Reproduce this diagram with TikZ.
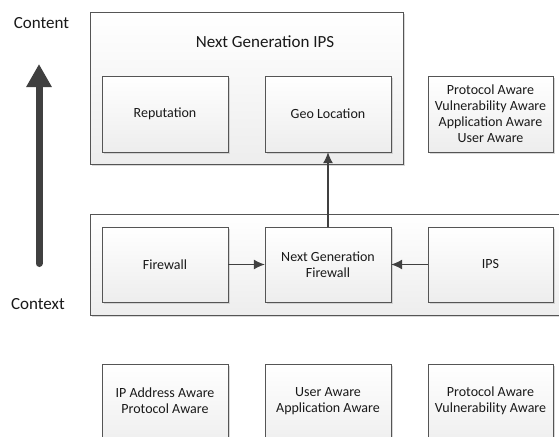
\documentclass[tikz,border=0pt]{standalone}
\usepackage{fontspec}
\setmainfont{Carlito}
\usetikzlibrary{arrows.meta,shadows}
\definecolor{edge}{HTML}{555555}
\definecolor{darkarrow}{HTML}{404040}
\tikzset{
  x=1pt, y=-1pt,
  frame/.style={draw=edge, line width=1pt, top color=white, bottom color=black!7,
    drop shadow={shadow xshift=1.5pt, shadow yshift=-1.5pt, fill=black!25, opacity=0.6}},
  card/.style={frame},
  txt/.style={font=\fontsize{14}{16}\selectfont, align=center, text=black!90},
  bigtxt/.style={font=\fontsize{17}{19}\selectfont, text=black!90},
  flow/.style={draw=darkarrow, line width=1.1pt, -{Latex[length=11pt,width=10pt]}},
}
\begin{document}
\begin{tikzpicture}
\clip (0,0) rectangle (559,436);
\fill[white] (0,0) rectangle (559,436);

% upper frame: next generation IPS
\path[frame] (90,13) rectangle (403,164);
\node[bigtxt] (ipstitle) at (265,42) {Next Generation IPS};
\path[card] (102,76) rectangle (228,152);
\node[txt] (rep) at (165,114) {Reputation};
\path[card] (265,76) rectangle (391,152);
\node[txt, minimum width=126pt, minimum height=76pt] (geo) at (328,114) {Geo Location};
\path[card] (428,76) rectangle (553,152);
\node[txt] (ipsfeat) at (490.5,114) {Protocol Aware\\Vulnerability Aware\\Application Aware\\User Aware};

% lower frame: firewall chain
\path[frame] (90,214) rectangle (575,315);
\path[card] (102,227) rectangle (228,302);
\node[txt, minimum width=126pt, minimum height=75pt] (fw) at (165,264.5) {Firewall};
\path[card] (265,227) rectangle (391,302);
\node[txt, minimum width=126pt, minimum height=75pt] (ngfw) at (328,264.5) {Next Generation\\Firewall};
\path[card] (428,227) rectangle (553,302);
\node[txt, minimum width=125pt, minimum height=75pt] (ips) at (490.5,264.5) {IPS};

\draw[flow] (fw) -- (ngfw);
\draw[flow] (ips) -- (ngfw);
\draw[flow] (ngfw) -- (geo);

% feature boxes along the bottom
\path[card] (102,364) rectangle (228,450);
\node[txt] (fwfeat) at (165,401) {IP Address Aware\\Protocol Aware};
\path[card] (265,364) rectangle (391,450);
\node[txt] (ngfwfeat) at (328,401) {User Aware\\Application Aware};
\path[card] (428,364) rectangle (553,450);
\node[txt] (ipsfeat2) at (490.5,401) {Protocol Aware\\Vulnerability Aware};

% context to content axis
\node[bigtxt] (content) at (41.5,23) {Content};
\node[bigtxt] (context) at (38,304) {Context};
\coordinate (axisbot) at (39,263.5);
\coordinate (axistop) at (39,64);
\draw[darkarrow, line width=7pt, line cap=round, -{Triangle[width=24pt,length=23pt]}] (axisbot) -- (axistop);
\end{tikzpicture}
\end{document}
